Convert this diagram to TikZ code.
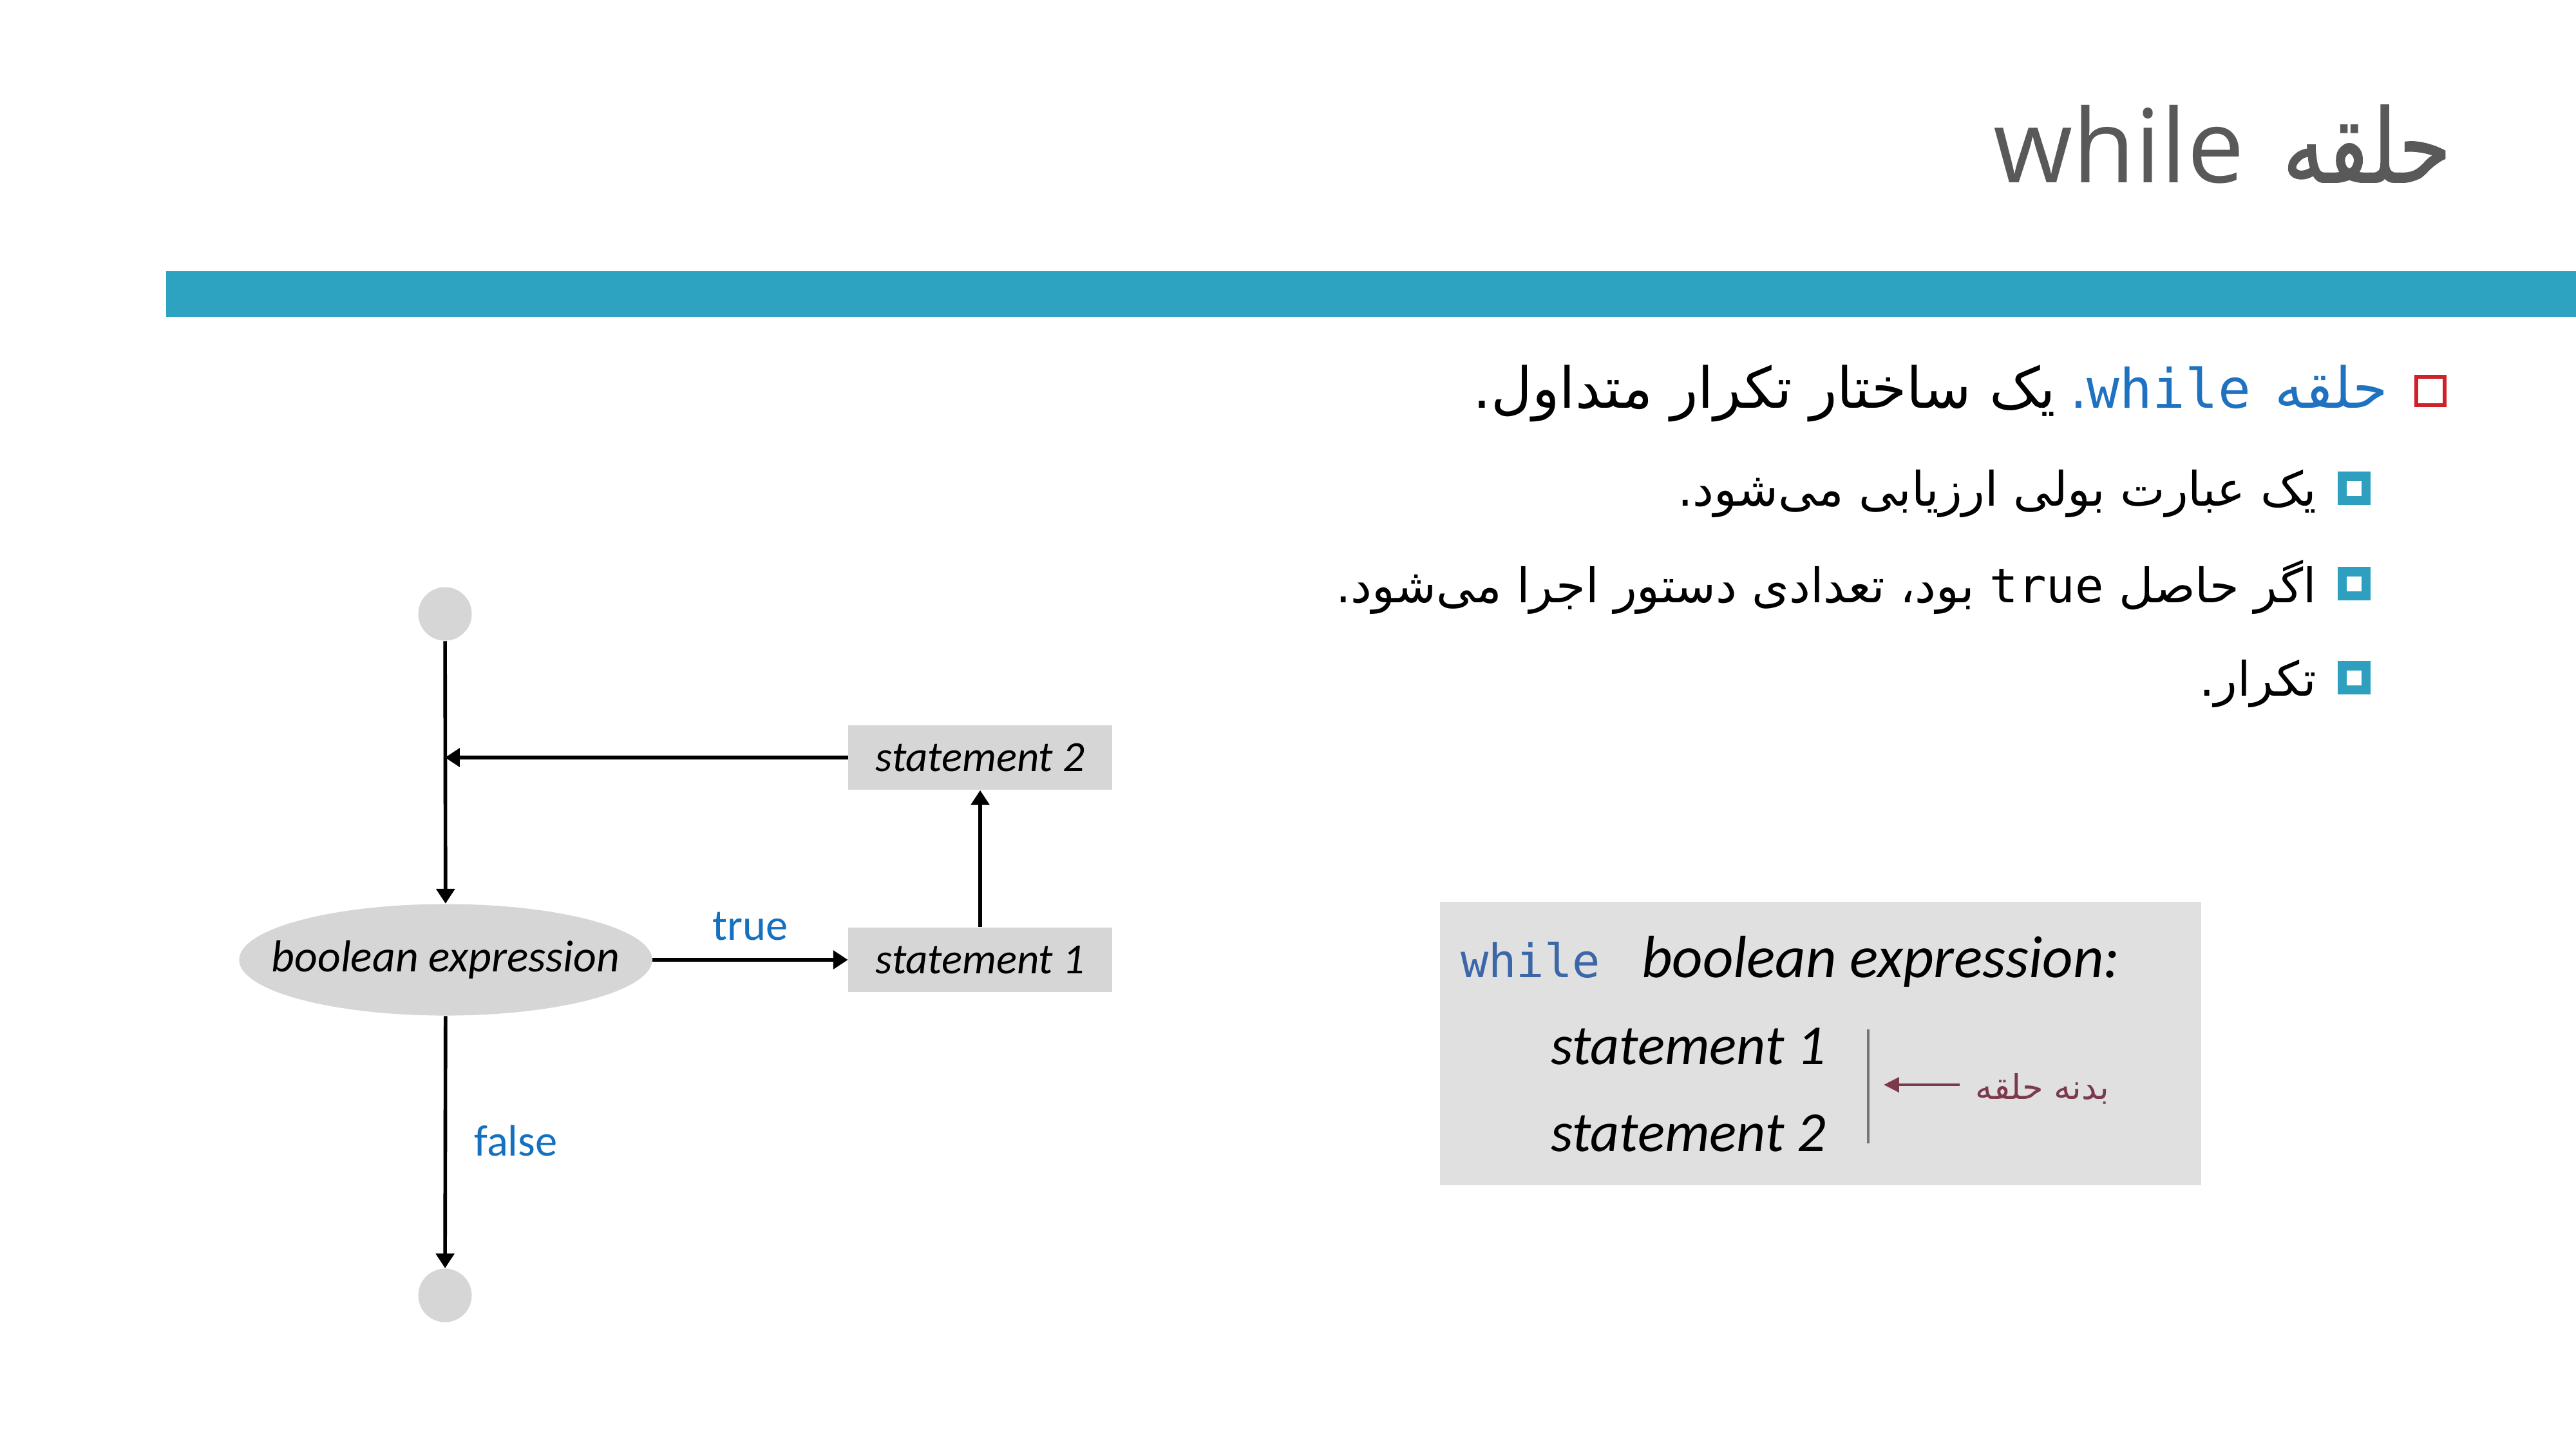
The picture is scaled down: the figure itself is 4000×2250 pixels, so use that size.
\documentclass[tikz,border=0pt]{standalone}
\usepackage{fontspec}
\usetikzlibrary{shapes.geometric,arrows.meta,calc}
\TeXXeTstate=1
\setmainfont{Carlito}
\newfontfamily\farsi[Script=Arabic]{DejaVu Sans}
\newfontfamily\farsihead[Script=Arabic,FakeStretch=0.83,FakeBold=1.2]{DejaVu Sans}
\newfontfamily\headfont{Open Sans}
\newfontfamily\codefont{DejaVu Sans Mono}

\definecolor{titlegray}{HTML}{595959}
\definecolor{barteal}{HTML}{2DA3C1}
\definecolor{squarered}{HTML}{D12128}
\definecolor{linkblue}{HTML}{1F72BF}
\definecolor{bulletteal}{HTML}{2E9FBF}
\definecolor{flowgray}{HTML}{D6D6D6}
\definecolor{codebg}{HTML}{E0E0E0}
\definecolor{keyblue}{HTML}{3B67A8}
\definecolor{labelblue}{HTML}{1570C0}
\definecolor{bodymaroon}{HTML}{7B3A4C}
\definecolor{rulegray}{HTML}{767676}

\tikzset{
  txt/.style={inner sep=0pt, outer sep=0pt},
  redsq/.style={draw=squarered, line width=1.7pt, fill=white, minimum size=0.44cm, inner sep=0pt},
  tealsq/.style={draw=bulletteal, line width=4pt, fill=white, minimum size=0.37cm, inner sep=0pt},
  flowline/.style={line width=1.6pt, -{Triangle[length=6.5pt,width=8pt]}},
  terminal/.style={circle, fill=flowgray, minimum size=0.83cm, inner sep=0pt},
  decision/.style={ellipse, fill=flowgray, minimum width=6.41cm, minimum height=1.73cm, inner sep=0pt},
  stmtbox/.style={rectangle, fill=flowgray, minimum width=4.09cm, minimum height=1cm, inner sep=0pt,
    font=\fontsize{19}{22}\selectfont\itshape},
  flowlabel/.style={txt, text=labelblue, font=\fontsize{19.5}{22}\selectfont},
  persianA/.style={txt, anchor=base east, font=\farsi\fontsize{25}{29}\selectfont},
  persianB/.style={txt, anchor=base east, font=\farsi\fontsize{21}{25}\selectfont},
  codetxt/.style={txt, anchor=base west, font=\fontsize{25}{30}\selectfont\itshape},
}

\begin{document}
\begin{tikzpicture}[x=0.01cm,y=-0.01cm]
\useasboundingbox (0,0) rectangle (4000,2250);

% heading and rule
\node[txt, anchor=base east, text=titlegray, font=\fontsize{45}{50}\selectfont] (title) at (3806,283)
  {{\headfont while}\hspace{17pt}{\farsihead\beginR حلقه\endR}};
\fill[barteal] (258,421) rectangle (4000,492);

% bullet list
\node[redsq] (b1) at (3774,607) {};
\node[tealsq] (b2) at (3655,758) {};
\node[tealsq] (b3) at (3655,906) {};
\node[tealsq] (b4) at (3655,1052) {};

\node[persianA, text=linkblue] (l1a) at (3708,633) {\beginR حلقه\endR};
\node[txt, anchor=base east, text=linkblue, font=\fontsize{24}{28}\selectfont] (l1b)
  at ($(l1a.base west)+(-38,0)$) {{\farsi .}{\codefont while}};
\node[persianA] (l1c) at ($(l1b.base west)+(-22,0)$) {\beginR یک ساختار تکرار متداول.\endR};

\node[persianB] (l2) at (3597,785) {\beginR یک عبارت بولی ارزیابی می‌شود.\endR};
\node[persianB] (l3) at (3597,935) {\beginR اگر حاصل {\codefont\beginL true\endL} بود، تعدادی دستور اجرا می‌شود.\endR};
\node[persianB] (l4) at (3597,1080) {\beginR تکرار.\endR};

% flowchart
\node[terminal] (start) at (691,953) {};
\node[decision, label={[txt, font=\fontsize{19.8}{23}\selectfont\itshape]center:boolean expression}] (cond) at (692,1490) {};
\node[stmtbox] (s1) at (1522,1490) {statement 1};
\node[stmtbox] (s2) at (1522,1176) {statement 2};
\node[terminal] (stop) at (691,2011) {};

\draw[flowline] (start) -- (cond);
\draw[flowline] (cond) -- node[flowlabel, above=0.3cm] (truelbl) {true} (s1);
\draw[flowline] (s1) -- (s2);
\draw[flowline] (s2.west) -- (s2.west -| start);
\draw[flowline] (cond) -- (stop);
\node[flowlabel] (falselbl) at (801,1771) {false};

% syntax box
\node[rectangle, fill=codebg, minimum width=11.81cm, minimum height=4.39cm, inner sep=0pt] (codebox) at (2827,1620) {};
\node[txt, anchor=base west, text=keyblue, font=\codefont\fontsize{20.5}{24}\selectfont] (kw) at (2268,1517) {while};
\node[codetxt, font=\fontsize{26.3}{31}\selectfont\itshape] (cexpr) at (2549,1517) {boolean expression:};
\node[codetxt] (cs1) at (2408,1652) {statement 1};
\node[codetxt] (cs2) at (2408,1787) {statement 2};
\coordinate (brtop) at (2901,1598);
\coordinate (brbot) at (2901,1775);
\draw[rulegray, line width=1.2pt] (brtop) -- (brbot);
\node[txt, anchor=base east, text=bodymaroon, font=\farsi\fontsize{15}{18}\selectfont] (bodylbl) at (3275,1706) {\beginR بدنه حلقه\endR};
\coordinate (bodytail) at (3043,1684);
\coordinate (bodytip) at (2925,1684);
\draw[bodymaroon, line width=1.4pt, -{Triangle[length=6.8pt,width=6.5pt]}] (bodytail) -- (bodytip);
\end{tikzpicture}
\end{document}
